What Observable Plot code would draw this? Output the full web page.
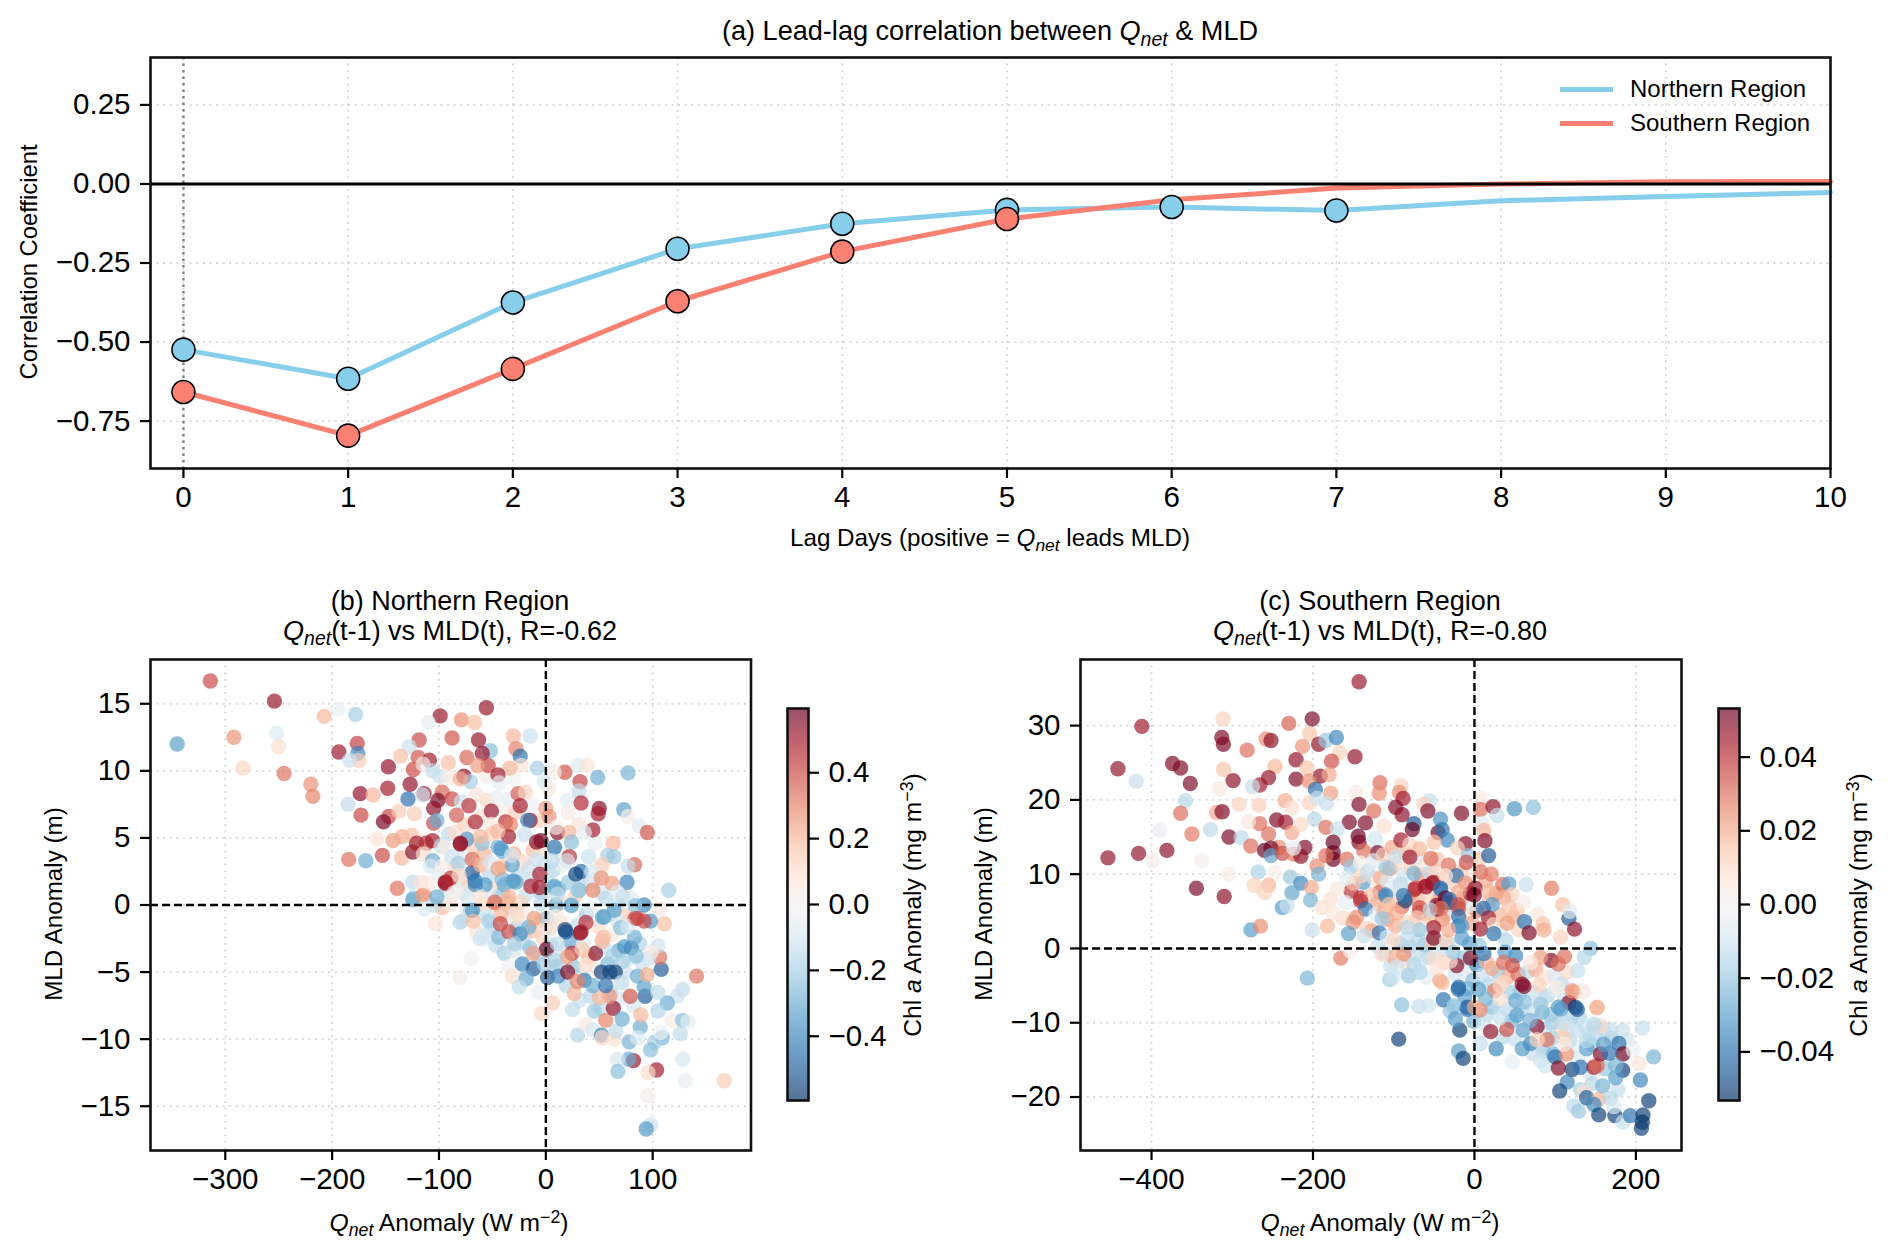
<!DOCTYPE html>
<html>
<head>
<meta charset="utf-8">
<script src="https://cdn.jsdelivr.net/npm/d3@7"></script>
<script src="https://cdn.jsdelivr.net/npm/@observablehq/plot@0.6"></script>
<style>
html,body{margin:0;padding:0;background:#fff;}
#page{position:relative;width:1892px;height:1256px;overflow:hidden;font-family:"Liberation Sans",Arial,sans-serif;color:#000;}
.box{position:absolute;}
.t{position:absolute;white-space:nowrap;line-height:1;transform:translate(-50%,-50%);text-align:center;}
.r{transform:translate(-50%,-50%) rotate(-90deg);}
sub,sup{font-size:72%;line-height:0;}
sub{vertical-align:-0.28em;}
sup{vertical-align:0.42em;}
.leg{position:absolute;height:5px;}
</style>
</head>
<body>
<div id="page"></div>
<script>
// ---- panel (a): lead-lag correlation ----
const lags = [0,1,2,3,4,5,6,7,8,9,10];
const northCorr = [-0.524,-0.616,-0.375,-0.205,-0.126,-0.082,-0.073,-0.084,-0.053,-0.04,-0.027];
const southCorr = [-0.658,-0.796,-0.585,-0.371,-0.214,-0.111,-0.05,-0.013,0.0,0.007,0.008];
const northMarked = [0,1,2,3,4,5,6,7];
const southMarked = [0,1,2,3,4,5];
const corrTicks = [-0.75,-0.5,-0.25,0,0.25];

// ---- panel (b): [Qnet anomaly, MLD anomaly, Chl a anomaly] ----
const northPoints = [
[-314,16.7,.4],[-254,15.2,.52],[-345,12,-.33],[-292,12.5,.27],[-252,12.8,-.08],[-250,11.8,.1],[-283.6,10.2,.12],[-245,9.8,.33],[-220,9,.27],[-218,8.1,.3],
[-207.5,14.06,.2],[-195,14.6,-.04],[-178,14.2,-.2],[-193.7,11.4,.52],[-176.5,12.05,.42],[-176,11.3,-.4],[-175,10.75,.15],[-183.7,10.8,-.12],[-147.4,10.3,.53],[-148,8.7,.5],
[-173.7,8.3,.53],[-161.7,8.2,.2],[-185,7.5,-.15],[-173,6.7,.4],[-147,6.6,.4],[-152,6.2,.57],[-184.5,3.4,.33],[-168.5,3.3,-.3],[-153,3.7,.4],[-158,4.95,.08],
[-143,4.8,.25],[-134.6,5.1,.22],[-125.7,5.2,.18],[-135,3.5,.2],[-124.6,3.95,.55],[-139,1.25,.33],[-124.5,1.7,-.15],[-98.9,14.1,.52],[-110,13.6,-.05],[-118.6,12.3,.4],
[-87.7,12.45,.38],[-128,11.8,-.12],[-136,11.1,.18],[-119.5,11,.38],[-109,10.8,.5],[-91.3,10.6,.18],[-124,10.1,.4],[-115,10.5,.03],[-106,10,-.15],[-99,9.6,-.12],
[-127,9,.53],[-114,8.3,.52],[-129,7.9,-.45],[-115.5,8.2,-.12],[-97,8.4,.35],[-101,7.8,.57],[-105,7.2,.53],[-137.5,7,.15],[-123,6.8,.15],[-105,6.1,.4],
[-102,6.3,-.3],[-87.7,7.9,.4],[-90.8,5.3,-.15],[-115,4.8,.05],[-121,4.6,.5],[-112,4.6,.45],[-106,4.8,.5],[-98,4.4,-.15],[-114.6,3.8,.1],[-106,3.3,-.3],
[-108,2.9,-.1],[-97,2.9,.03],[-93.9,1.7,.55],[-114,.8,.25],[-124,.5,-.25],[-117,1.7,.08],[-81,1.8,-.1],[-81,2.4,-.1],
[-64,2.8,.12],[-72,1.4,.15],[-78,.9,-.06],[-85,2.9,.1],[-92,1.1,-.1],[-97,-.2,.18],[-100,2.2,-.05],[-110,1.6,.06],[-76,3.8,-.08],[-68,4.4,.14],
[-58,3.8,.2],[-53,2.1,-.16],[-47,1.2,.12],[-41,2.9,.16],[-37,1.4,.08],[-30,3.8,.22],[-26,2.2,-.14],[-21,3.2,.12],[-17,1.9,-.08],[-12,4.1,.18],
[-3,4.1,.1],[-60,6.6,.08],[-55,7.8,.12],[-46,8,-.04],[-40,7.1,.03],[-34,7.9,-.06],[-28,6.9,.14],[-90,9.5,.05],[-85,5.4,.1],[-76,6,.14],
[-70,5.5,.05],[-65,8.2,.08],[-55,9.6,.03],[-30,9.4,-.02],[-12,7.4,-.03],[-6,6.3,.12],[14,3.9,-.08],[40,3.6,-.12],[46,4.6,-.04],[-95,4.3,.04],
[-88,3.6,-.12],[-75,-.9,.03],[-65,-2,.08],[-52,.9,-.08],[-43,.6,-.14],[-35,-1.2,-.04],[-18,-.5,.02],[-14,-1.9,.2],[-4,-1.1,.16],[-1,.6,-.04],
[2,-4.8,.05],[16,.1,.1],[34,1.6,-.18],[52,.9,-.1],[72,.6,-.2],[88,-.9,-.06],
[-58,-.6,-.12],[-51,-1.8,-.18],[-47,-3,-.15],[-39,-3.6,-.2],[-33,-.2,-.12],[-30,-3.4,-.1],[-27,-1.7,-.2],[-21,-2.8,-.16],[-19,.7,-.14],[-15,-3.2,-.24],
[-13,1.9,-.1],[-9,-1.9,.12],[-7,-3.7,-.18],[-5,.9,-.2],[-3,-2.4,.14],[-2,3,-.1],[1,-1,-.22],[3,1.6,-.14],[5,-3,-.16],[7,2.6,-.18],
[10,-4.6,-.2],[12,1.2,-.34],[14,-1.3,.08],[15,3,-.05],[17,-3.4,-.1],[19,-6,-.17],[21,1.7,-.22],[23,-2.7,-.32],[26,-4.6,-.24],[28,.7,.15],
[30,-1.5,-.14],[32,-7.1,-.12],[35,-2.9,-.08],[38,-.7,-.2],[40,-3.9,.18],[42,-6.8,-.16],[44,1.8,-.1],[47,-4.8,.06],[49,-1.6,.1],[51,-7.7,-.15],
[54,-3.1,-.14],[56,.5,-.16],[58,-4.4,-.26],[61,-6.6,-.18],[62,-2.2,.06],[66,-.1,-.12],[68,-3.4,-.3],[69,-7,-.1],[74,-5,-.12],[75,-.8,.15],
[78,-4,-.1],[80,.5,-.08],[82,-7.5,-.1],[88,-2.9,-.18],[90,-4.3,-.12],
[-55.7,14.7,.52],[-79,13.8,.28],[-66.6,13.6,.18],[-30.4,12.6,.2],[-14.7,12.6,-.12],[-63,12.3,.52],[-28,11.65,.3],[-52,11.5,-.25],[-59.5,11.3,.53],[-24,11.1,-.45],
[-74,11,.35],[-23,10.4,.08],[-54,10.4,.42],[-64,10.4,.25],[-33.7,10.2,.2],[-8,10.2,-.2],[-44.8,9.7,.5],[-76.6,9.6,.53],[-70.5,9.2,-.2],[-80,9.4,.22],
[-43.7,9.1,-.05],[17.8,9.9,.38],[30,10.4,-.08],[38.5,10.4,.08],[7.8,9.9,.03],[48.5,9.5,-.3],[32,9.2,.42],[77,9.85,-.28],[-1.5,9.2,-.1],[3,8.7,.05],
[31,8.5,-.15],[-26,8.3,.37],[-19,8.4,.12],[20,7.8,-.06],[33,7.6,.47],[-24,7.4,.5],[50,7.2,.55],[49,6.8,.5],[73,7.1,-.33],[21,6.9,.05],
[77,6.6,.03],[-51,7,.52],[-79,7.7,-.12],[-72,7.4,.45],[0,7.2,.25],[3,6.6,.27],[-14.7,6.3,.53],[-17,6.3,-.4],[-37.7,6.2,.45],[-33,6,.3],
[-83.6,6.7,.37],[-66,6.2,.48],[-51,6,.05],[87.5,5.9,-.07],[95,5.4,.38],[44,5.6,.5],[30.5,6,.08],[11,5.4,.55],[9.5,5.8,.03],[21.5,5.4,.2],
[36,5.4,-.05],[63,4.6,.2],[24,4.7,-.25],[-4.6,4.8,.6],[-35,5.1,.5],[-20,5.2,-.1],[-74,4.9,-.35],[-80,4.6,.5],[-59.6,4.6,-.25],[-44.8,4.3,-.3],
[8,4.3,-.45],[-41,4,-.3],[22,3.6,.45],[58,3.7,-.2],[63.7,3.6,-.22],[83,3,.35],[77,2.9,-.15],[52.6,3,.15],[-31.5,3,-.33],[20,3.3,-.1],
[33,2.5,-.45],[28,2.3,-.55],[43,2.5,-.1],[52,2,.28],[76,1.7,-.4],[115,1.1,-.2],[62,1.6,.25],[-40.6,1.9,-.28],[-30.6,1.8,-.38],[-14,1.4,.48],
[-69,2.4,-.5],[-66.3,1.8,-.45],[-57,1.5,-.35],[-94,1.7,.5],[8,1.4,-.3],[31,1.1,-.3],[44,1.1,.3],[67,.95,-.08],[-40,.8,-.2],
[-124.6,.38,-.3],[-115.6,.7,.25],[-105,0,-.15],[-114,-.3,-.08],[-103.4,-1.4,.08],[-80.4,-1.3,-.15],[-94,1.6,.5],[-66,1.5,-.4],[-70.5,-.4,-.4],[-61.6,-2.5,-.12],
[-56,-2.5,-.1],[-44,-2.4,-.27],[-34.6,-2,.4],[-24,-2.15,-.4],[-16,-1.65,-.3],[-29.6,-2.9,-.2],[-70,-4,-.01],[-80.4,-5.4,.03],[-34.6,-4.6,-.02],[-22,-4.4,-.4],
[-11.6,-4.75,-.5],[-31.4,-5.3,.1],[-18.4,-5.5,-.3],[-25,-6.1,-.15],[-7,-6.5,-.05],[.6,-3.3,.6],[-12,-3.6,.25],[1.6,-5.4,-.5],[11.5,-5.3,-.4],[-4,-8.1,.12],
[6.3,-7.3,.15],[25,-7.8,-.15],[26.6,-6.6,.2],[29.7,-9.7,-.18],[37.5,-8.9,.05],[44,-9.3,-.1],[52,-9.7,-.4],[52.6,-9.9,.12],[64,-10,.1],[65.6,-9.4,-.15],
[56,-8.6,.3],[45.4,-7.9,-.22],[63.2,-7.7,.53],[71.4,-8.5,-.3],[78,-10.2,-.28],[88.4,-9.1,-.3],[89,-8.2,.2],[79,-6.8,.38],[59.6,-6.8,.27],[50,-6.9,.2],
[93,-6.8,-.5],[92,-6.1,-.33],[85.6,-5.3,-.3],[94.7,-5.2,.22],[108,-4.8,-.5],[106.5,-3.9,.33],[105,-3.05,-.12],[98.7,-3.5,.05],[95.6,-4,-.1],[111,-1.4,.18],
[98,-1.2,-.35],[92,-1.2,.4],[83.6,-1,.42],[106.5,-.3,.05],[92,0,-.4],[83.6,-.05,-.25],[141,-5.3,.33],[128,-6.3,-.15],[123,-6.8,-.12],[113.6,-7.3,-.3],
[104.7,-6.5,-.15],[105,-7.9,-.18],[118,-8.6,.03],[128,-8.6,-.25],[133,-8.7,-.06],[125.8,-9.6,-.15],[109,-9.9,-.27],[102,-10.2,-.2],[98,-10.8,-.25],[86,-9.9,-.08],
[107.5,-9.5,-.04],[128.3,-11.5,-.1],[130.5,-13.1,-.05],[167,-13.1,.15],[103.6,-12.3,.5],[95.6,-12.5,.1],[82,-11.6,.52],[77.6,-11.5,-.3],[67,-11.5,-.1],[67.4,-12.4,-.25],
[95.5,-14.2,.03],[98,-16.4,-.12],[93.9,-16.7,-.35],
[53,-.9,-.33],[67,-1.2,-.1],[37.5,-1.3,.45],[32,-2.1,.53],[18.7,-2,-.5],[3,-2.05,-.05],[11,-2.9,-.15],[24.4,-3.6,.45],[20.3,-3.9,.25],[46.4,-3.6,.55],
[34,-3.3,.15],[52.6,-2.7,.2],[73.6,-3.1,-.35],[80,-3.2,-.4],[62.6,-3.8,-.2],[72,-4.2,-.2],[84.7,-3.8,-.25],[60,-5,-.55],[52,-5,-.55],[65,-5,-.55],
[20.4,-5,.55],[36,-5.6,-.45],[44,-6,-.3],[56,-6,-.45],[71,-5.8,-.15],[29.6,-5.7,.3],[37,-4.5,.1],[8,-4.1,-.2],[-1.6,-4.4,-.2],[83,-2.4,-.3],
[70,-1.7,-.25],[59.3,-.7,-.15],[42,-.2,-.05],[24,0,-.25],[9.4,0,-.3],[-4.7,.1,-.15],[-23.5,.2,.12],[-36,.3,.22],[-48.5,.05,.15],[-61,.05,.1],
[-73.6,-.3,-.05],[-89,.05,.05],[-42,-.7,.2],[-54.8,-.9,-.1],[-26.6,-.9,.1],[-11,-1,.25],[-6,1.3,.5],[-39,1.5,-.3],[-28,1.7,-.33],
[-80,4.55,.53],[-42,4.2,-.35],[-51,5.3,.15],[-45,5.5,.2],[-61,5.1,.2],[-19.5,5.3,-.1],[-8.7,4.7,.55],[-82,3.1,-.2],[-89,2,.45],[-81,2.2,.1],
[-69,3.4,.35],[-61,3,.2],[-52.5,3.2,-.1],[-44.7,2.7,.25],[-15.6,2.7,-.12],[-32,3.7,-.1],[-9,3.4,-.12],[6,3.3,-.15],[-5.7,2.3,.5],[7.7,1.3,-.3],
[11,.8,-.15],[30,1.1,-.2],[23.7,-.05,-.3],[-34.6,.6,.2],[-34,-.1,.18],[-48,.2,.35],[-61,.6,.08],[-73.7,.6,-.1],[-89,.1,.05],[-102,.6,-.3],
[-86,.9,.03],[-68.5,-.4,-.35],[-78.6,-1.2,-.15],[-68,-1.2,.18],[-59.6,-2.3,-.1],[-28,-.6,.1],[-53.5,-1.2,-.2],[-42.6,-1.4,.4],[9.7,-.85,.05],[3.5,-1.7,.1],
[18,-1.85,-.55],[33,-2,.5],[54.4,-.9,-.33],[76.5,-1.6,-.1],[85.6,-1,.4],[64,-.4,-.33],[54,-2.4,.18]
];
const northQTicks = [-300,-200,-100,0,100];
const northMldTicks = [-15,-10,-5,0,5,10,15];
const northChlTicks = [-0.4,-0.2,0,0.2,0.4];

// ---- panel (c): [Qnet anomaly, MLD anomaly, Chl a anomaly] ----
const southPoints = [
[-142.9,35.9,.046],[-412,29.9,.045],[-311.4,30.9,.012],[-201,30.9,.05],[-230,30.3,.032],[-313,28.4,.05],[-311,27.5,.05],[-258,28.2,.025],[-252,28,.048],[-281.6,26.7,.03],
[-204,28.9,.015],[-193,27.5,.047],[-184,28,-.02],[-171,28.4,-.035],[-167,26.4,.012],[-213,27.2,.024],[-148,25.8,.047],[-221,25.4,.047],[-177,25.2,.035],[-441.7,24.2,.047],
[-374,24.9,.05],[-364,24.3,.05],[-419,22.5,-.012],[-352,22.2,.05],[-311,24.1,.015],[-299,22.6,.048],[-247,24.5,.018],[-255,23,.047],[-221,22.8,.05],[-207.5,24.3,.015],
[-191,23.2,.047],[-180,23.4,.02],[-205,22.5,.025],[-266,22,.045],[-275,21.8,-.012],[-315.5,21.5,.005],[-197,21.4,-.04],[-178,20.9,.022],[-117,22.3,.03],[-118,20.9,.025],
[-147,21,.004],[-358,19.9,-.015],[-364,18.2,.03],[-319.6,18.3,.02],[-312.5,18.4,.05],[-291.7,19.4,.012],[-267,19.3,.013],[-234.7,19.9,.02],[-226,18.9,.008],[-204.5,19.6,.012],
[-195,20.2,-.01],[-183,19.5,-.012],[-143,19.4,.05],[-124.7,18.5,.03],[-245,17.3,.05],[-234,17,.045],[-266,16.8,.03],[-280,17.1,.005],[-198,17.4,-.015],[-155,17,.05],
[-184,16.3,.03],[-170,16.1,-.012],[-135,16.9,.05],[-226,15.6,.02],[-215,16.7,.01],[-390,15.9,-.004],[-350,15.4,.028],[-326.9,16,-.014],[-304,15,.05],[-289,14.9,-.014],
[-255,15.4,.03],[-144,15.1,.053],[-143,14.3,.05],[-175,14.3,.053],[-123,14.8,-.01],[-454,12.2,.047],[-416,12.8,.047],[-381,13.2,.048],[-399,11.8,.003],[-338,11.8,.002],
[-277,13.8,.03],[-242,13.6,.025],[-260,13.2,.053],[-252,13.5,.052],[-252,12.5,-.028],[-238,12.8,.035],[-224,12.7,.028],[-210,13.6,.05],[-215,12.4,.048],[-224,13.5,-.005],
[-175,12.9,.053],[-175,12,.053],[-184,12.5,.03],[-158,12,.03],[-120,12.9,.052],[-137,13.1,.03],[-153,11,-.02],[-110,11,-.02],[-141,11.5,.003],[-195,11.1,.025],
[-193,10,-.025],[-228,9.6,-.02],[-268,10.3,-.017],[-304,10,.004],[-247,10.2,.003],[-344.5,8.1,.05],[-310,7,.048],[-273,8.5,.012],[-255,8.5,.018],[-260,7.5,.012],
[-215,8.8,-.035],[-226,7.5,-.028],[-202,8.2,.02],[-203,6.5,-.025],[-153,7.7,.04],[-137.5,8.9,-.03],[-124,9.5,.008],[-117,7.6,.033],[-110,7,-.03],[-141,6.8,.04],[-170,8,.005],
[-140,9.8,.01],[-132,10.4,-.012],[-128,7.2,.015],[-125,11.8,-.006],[-120,6.1,.02],[-116,9.5,.02],[-113,12.6,.012],[-108,9,-.008],[-104,10.8,.025],[-102,13.6,.02],
[-99,6.3,.016],[-95,11.5,.008],[-90,5.6,.03],[-88,9.9,-.01],[-85,12.8,.018],[-82,6.9,.022],[-78,10.8,.012],[-72,12.2,-.008],[-70,6.5,.02],[-66,9.9,.025],
[-62,11.2,.006],[-58,4.9,.02],[-55,10.2,-.012],[-48,10.5,.012],[-44,6.7,.025],[-38,9.4,.02],[-34,4.6,.012],[-28,8.9,.012],[-26,5,-.01],[-17,10.2,.018],
[-14,6.8,.022],[-9,4.5,.01],[-6,9.9,.006],[-3,3.4,.02],[3,5.1,.028],[6,12,.014],[14,9.1,.02],[18,6.3,.015],[27,7.4,.025],[30,4.5,.018],
[33,2.3,-.006],[39,1.1,-.015],[48,4.2,.02],[55,2.5,.012],[-150,8.8,.015],[-158,9.5,-.006],[-163,4.1,.01],
[-120,.3,-.012],[-112,-.6,-.016],[-104,-2.3,-.012],[-92,.6,-.02],[-86,-1.9,.01],[-80,.2,-.02],[-74,-.7,-.012],[-62,.5,-.022],[-57,-1.2,-.018],[-53,.8,.015],
[-44,-.3,-.012],[-37,-1.9,.012],[-33,.7,-.015],[-24,-3.4,-.01],[-14,-1.3,-.02],[-11,-3.2,-.008],[-6,.6,-.03],[-2,-4.3,-.022],[-8,-5.4,-.025],[3,-2.2,-.035],
[6,.4,-.02],[10,-3.6,-.012],[15,-1.8,.018],[18,-4.9,-.015],[29,-3.2,-.02],[41,-3.9,.02],[44,-5.9,-.018],[54,-3.5,.03],[57,-6,-.02],[66,-3.1,-.014],
[73,-5.9,-.012],[76,-2.9,.02],[88,-3.9,.008],[90,-6.4,-.016],[94,-8.9,-.02],[99,-3.6,-.008],[108,-4.8,-.014],[112,-6.9,-.012],[115,-3.2,.01],[-30,-8.4,-.02],
[-12,-6.5,-.03],[15,-8.9,-.015],[22,-7.9,-.02],[40,-8.2,-.014],[46,-9.8,-.025],[58,-8.3,-.016],[72,-8.3,-.012],[88,-10.8,-.012],[101,-9,-.015],[118,-9.8,-.012],
[122,-9,-.014],[130,-9.3,-.016],[136,-10.4,-.01],[142,-11.5,-.012],[146,-13,-.02],[150,-11.4,-.014],[115,-11.1,-.006],[124,-13.2,-.006],[118,-12.4,-.012],[128,-14.8,-.008],
[107,-10.8,.012],[97,-12.1,-.018],[85,-13.8,-.02],[72,-14.1,-.012],[-1,-9.8,-.025],[12,-10,-.01],[35,-11.9,-.015],[50,-12.2,-.012],[160,-10.9,-.015],[170,-12.1,-.02],
[190,-12.4,-.01],[143,-16.8,-.01],[162,-16.2,-.02],[178,-19,-.012],[146,-18.2,-.015],
[-238,5.5,-.03],[-232,5.75,-.012],[-189,5.5,.008],[-178.6,6.6,.008],[-175,4.85,.006],[-160,6.2,-.005],[-141,6.4,.04],[-135,5.3,-.04],[-146,4.2,.025],[-150,3.5,.025],
[-182,3,.017],[-201,2.5,-.012],[-276.8,2.5,-.03],[-265,3,.025],[-156,2,-.03],[-133,2.7,.012],[-127,2.4,.02],[-117.7,2.1,-.04],[-137,1.7,-.012],[-108,3.9,.02],
[-98,3.05,.02],[-83.6,3.5,.012],[-68.5,4.8,.035],[-56,4.2,.015],[-76,3.1,.007],[-84,1.3,-.012],[-69,1.1,-.015],[-50.4,1.4,.052],[-40,3.9,.025],[-19.6,3,-.04],
[-15.5,1.4,-.03],[-34.5,1,.012],[-19.6,5.4,.035],[-46,5.3,.05],[-36,6.2,.053],[-30,6.2,-.04],[-86,6.4,-.05],[-75,7.9,.04],[-61,8.3,.045],[-50.5,8.9,.042],
[-42,8,-.035],[-59,6.9,.01],[-92,8.7,-.012],[-96,7.3,.008],[-122,4.6,-.006],[-112,5,.02],[-165.6,-1.3,.028],[-154,-.3,.003],[-207,-4,-.025],[-105,-4.2,-.018],
[-101,-3.9,-.01],[-82,-3.65,-.016],[-67.7,-3.2,-.014],[-59,-3.9,-.006],[-43,-4.3,.02],[-19.6,-5.2,-.04],[-38.5,-6.9,-.04],[-25,-7.7,-.02],[-90,-7.6,-.022],[-69,-7.8,-.012],
[-57,-7.7,-.01],[-9,-7.9,-.045],[-5,-1.3,.05],[-22,-2.3,.048],[-30,-1.7,.007],[-50.4,-1.3,.008],[-67,-1.7,-.01],[-87.6,-.8,.025],[-100,-1.2,.02],[-114.6,-.8,.01],
[-75,-2.1,-.015],[-96,-2.5,-.01],[-46,-2.6,.007],[-108,1.5,-.008],[-100,1.1,.01],[-2.5,5.8,-.005],[-5,7.4,.05],
[-90.8,21.9,.012],[-93,21,.025],[-88.5,20.2,.045],[-55.7,19.9,-.012],[-62.8,19.4,.012],[-97.5,19,.05],[-57.7,18.5,.05],[-89.6,18,.048],[-16,18.2,.05],[7.4,20.2,.005],
[7.4,18.7,.03],[23,19.1,.048],[28,17.9,-.012],[49.5,18.8,-.032],[73,19,-.022],[-42,17.4,-.033],[-75,16.8,-.045],[-77,16,.053],[-112,16.5,.008],[-45,15.6,.052],
[-40,16,-.04],[9.4,16.8,-.006],[11.6,15.9,.018],[-33.6,14.6,-.035],[-50,14.3,.015],[-11,14.1,.05],[13,14.5,.05],[-21,13.5,.012],[-91,14.6,.045],[-80,14,.01],
[-68,13.4,.018],[17.6,12.5,-.045],[-97,12.4,-.012],[-80,12.3,.045],[-7.6,12.5,-.02],[-10,11.6,.035],[-46,12,.015],[-54,12.1,.03],[-107,10.8,-.018],[-75,10.1,-.025],
[-32,11.2,.03],[-22.5,9.8,-.04],[-36,9.8,.006],[8,10.3,.03],[21,10,.028],[-11,8.8,.025],[35.1,8.6,.03],[64,8.6,-.012],[42.5,8.7,-.03],[95.5,8.1,.028],
[-52,8.8,.045],[-73,8.1,.04],[-60,8.3,.045],[-42,8.1,-.04],[-91,8.7,-.012],[-110,7.2,-.035],[-92,8,-.01],[-87.9,7.1,-.04],[-19.6,7.6,.02],[1,8.1,.047],
[0,7.2,.05],[17.6,7.7,.018],[46.5,7.2,.012],[36,6.9,.02],[-36,6.8,.055],[-31,6.6,-.04],[-47,5.8,.05],[-20,5.9,.035],[-68,5.5,.035],[-55,5.2,-.012],
[22,5.9,-.03],[11,5.4,-.04],[53,5.1,.015],[43,5.6,.015],[61,6.2,.003],[78.5,4.6,.005],[109.5,5.9,.016],[117,4.05,-.045],[118,5,-.006],[-41,5.4,.028],
[-19.5,4.3,-.04],[-106,5.9,.015],[-96,4.8,.02],[-114,4,-.02],[-71,4.1,.012],[17.5,4.1,.045],[23.9,3.2,.01],[62,3.6,-.04],[40.5,3.4,.022],[84.8,3.3,.015],
[86,2.5,.02],[124,2.6,.048],[67.7,2.1,.05],[106.6,1.5,.012],[-50.5,2.8,.045],[-15.6,3,-.03],[-68,2.5,-.02],[-83,2.8,-.015],[7.4,2.6,.045],[24,2,-.04],
[-32,2.5,.02],[144,0,-.022],[136,-1.2,-.015],[111.5,-1.1,.03],[95,-1.6,.05],[81.8,-1.2,.022],[128,-3,-.012],[103.8,-2.1,.03],[69.7,-1.9,.006],[51,-1,-.035],
[38,-.5,-.03],[11.6,-.7,-.04],[-26,-.5,-.02],[22,-2.7,.02],[47,-2.3,.035],[36,-1.9,.03],[34.4,-4.6,.01],[59,-4.8,.05],[61.4,-5.1,.05],[80,-4.9,.012],
[100,-5.6,-.006],[123,-5.9,.023],[135,-5.9,.004],[25,-5.7,.028],[5,-5.5,-.03],[-20,-5.5,-.042],[-40,-4.6,.018],[-81,-3.7,-.016],[-67,-3.2,-.014],[51,-7,-.028],
[62,-7.2,-.022],[80,-7.3,-.01],[117,-7.3,.05],[125,-7.9,-.05],[152,-7.9,.018],[104,-7.9,-.03],[13.5,-6.8,-.025],[32,-6.8,.008],
[-93.8,-12.2,-.05],[-25.6,-7.9,-.02],[-18.2,-11,-.05],[-23.7,-9.5,-.03],[-19.6,-13.8,-.03],[-14,-14.8,-.05],[-9,-8.2,-.04],[7.4,-12.8,-.012],[26.9,-13.5,-.035],[20,-11.2,.048],
[40,-10.9,.035],[46.9,-15.3,-.005],[59.3,-13.5,-.03],[60.5,-11,-.03],[69.4,-12.8,-.035],[77.6,-10.5,.05],[81.8,-15.1,-.01],[88,-15.8,-.01],[90,-12.3,.03],[77.6,-12.3,.012],
[98,-14.2,-.025],[99.9,-14.6,-.04],[104,-16.1,.05],[121,-16.3,-.05],[114,-14.2,.025],[111,-12,.013],[111,-12.9,.005],[114.9,-18,-.035],[105.6,-19.2,-.05],[131.5,-16,-.04],
[148,-16,.045],[152,-15.8,.03],[156,-14.2,.05],[139,-13.5,-.03],[131.5,-19,-.018],[135.5,-19.3,.008],[139,-20.1,-.045],[154,-20.3,.018],[148,-21,-.035],[158.9,-18.5,-.025],
[168.5,-20.2,-.015],[123,-21.2,-.014],[129,-21.9,-.02],[154,-22.4,-.05],[174,-22.5,-.05],[172.8,-21.3,-.008],[184,-23.4,-.012],[193,-22.5,-.04],[208.8,-22.4,-.05],[208,-23.4,-.055],
[206.8,-24.2,-.05],[216,-20.5,-.05],[205.6,-17.7,-.035],[222,-14.6,-.025],[208,-10.7,-.012],[183.6,-11,-.012],[168.5,-10.9,-.012],[156,-10.4,.01],[152,-8,.018],[179,-12.8,-.04],
[184,-14.2,.053],[196.8,-13.7,-.002],[204,-15.5,.006],[183.6,-16.4,-.05],[175,-17.4,-.03],[175,-15.8,-.025],[167,-14.1,-.04],[160,-12.9,-.03],[139,-12.4,-.015],[127,-11.1,-.012],
[148,-10.2,-.015],[127.5,-8.2,-.045],[107,-8.2,-.03],[84,-8.6,-.025],[82,-7.5,-.02],[32,-9.3,-.012],[52.6,-9,-.03],[69,-9.7,-.025],[96,-10,-.018],[110,-10.1,-.012],
[7,-8.3,.025],[0,-7.9,.02],[133,-5.7,.004],[121,-5.7,.023],[32,-5,.01],[102,-5.2,.004]
];
const southQTicks = [-400,-200,0,200];
const southMldTicks = [-20,-10,0,10,20,30];
const southChlTicks = [-0.04,-0.02,0,0.02,0.04];

const BLUE = "#87CEEB", RED = "#FA8072";
const FONT = '"Liberation Sans",Arial,sans-serif';
const TICK_FONT = "29.5px";
const gridStyle = {stroke:"#b4b4b4",strokeOpacity:.55,strokeWidth:1.8,strokeDasharray:"2,4.6"};
const FRAME = {stroke:"#111",strokeWidth:2.6};
const page = document.getElementById("page");

function place(node,left,top){
  const d=document.createElement("div");d.className="box";d.style.left=left+"px";d.style.top=top+"px";
  d.appendChild(node);page.appendChild(d);
}
function text(html,x,y,size,rot){
  const d=document.createElement("div");d.className="t"+(rot?" r":"");d.innerHTML=html;
  d.style.left=x+"px";d.style.top=y+"px";d.style.fontSize=size+"px";page.appendChild(d);
}

// panel (a)
const corrRows = s => lags.map((l,i)=>({lag:l,r:s[i]}));
const northRows = corrRows(northCorr), southRows = corrRows(southCorr);
place(Plot.plot({
  width:1820,height:471,marginLeft:90,marginRight:50,marginTop:10,marginBottom:50,
  style:{fontFamily:FONT,fontSize:TICK_FONT,background:"transparent",overflow:"visible"},
  x:{domain:[-0.2,10]},y:{domain:[-0.9,0.4]},
  marks:[
    Plot.gridX(lags,{...gridStyle}),
    Plot.gridY(corrTicks,{...gridStyle}),
    Plot.ruleX([0],{stroke:"#808080",strokeWidth:2.4,strokeDasharray:"2.5,4"}),
    Plot.line(northRows,{x:"lag",y:"r",stroke:BLUE,strokeWidth:5}),
    Plot.line(southRows,{x:"lag",y:"r",stroke:RED,strokeWidth:5}),
    Plot.ruleY([0],{stroke:"#000",strokeWidth:3}),
    Plot.dot(northRows.filter(d=>northMarked.includes(d.lag)),{x:"lag",y:"r",r:11.5,fill:BLUE,stroke:"#000",strokeWidth:1.6}),
    Plot.dot(southRows.filter(d=>southMarked.includes(d.lag)),{x:"lag",y:"r",r:11.5,fill:RED,stroke:"#000",strokeWidth:1.6}),
    Plot.frame(FRAME),
    Plot.axisX({ticks:lags,label:null,tickSize:10,tickPadding:8,strokeWidth:2.2,tickFormat:"d"}),
    Plot.axisY({ticks:corrTicks,label:null,tickSize:10,tickPadding:10,strokeWidth:2.2,tickFormat:".2f"})
  ]
}),60,47);

// scatter panels + colour bars
function scatter(points,o){
  const rows=points.map(p=>({q:p[0],mld:p[1],chl:p[2]}));
  const ml=o.left-o.svgLeft,mt=o.top-o.svgTop;
  place(Plot.plot({
    width:ml+o.w+20,height:mt+o.h+50,marginLeft:ml,marginRight:20,marginTop:mt,marginBottom:50,
    style:{fontFamily:FONT,fontSize:TICK_FONT,background:"transparent",overflow:"visible"},
    x:{domain:o.xd},y:{domain:o.yd},
    color:{type:"linear",scheme:"RdBu",reverse:true,domain:[-o.m,o.m]},
    marks:[
      Plot.gridX(o.xt,{...gridStyle}),
      Plot.gridY(o.yt,{...gridStyle}),
      Plot.dot(rows,{x:"q",y:"mld",r:7.7,fill:"chl",fillOpacity:.68}),
      Plot.ruleX([0],{stroke:"#000",strokeWidth:2.4,strokeDasharray:"8,4"}),
      Plot.ruleY([0],{stroke:"#000",strokeWidth:2.4,strokeDasharray:"8,4"}),
      Plot.frame(FRAME),
      Plot.axisX({ticks:o.xt,label:null,tickSize:10,tickPadding:8,strokeWidth:2.2,tickFormat:"d"}),
      Plot.axisY({ticks:o.yt,label:null,tickSize:10,tickPadding:10,strokeWidth:2.2,tickFormat:"d"})
    ]
  }),o.svgLeft,o.svgTop);
  const n=196,step=2*o.m/n;
  const stops=d3.range(n).map(i=>-o.m+i*step);
  place(Plot.plot({
    width:21+10+120,height:392+20,marginLeft:0,marginRight:130,marginTop:10,marginBottom:10,
    style:{fontFamily:FONT,fontSize:TICK_FONT,background:"transparent",overflow:"visible"},
    x:{domain:[0,1],axis:null},y:{domain:[-o.m,o.m]},
    color:{type:"linear",scheme:"RdBu",reverse:true,domain:[-o.m,o.m]},
    marks:[
      Plot.rect(stops,{x1:0,x2:1,y1:d=>d,y2:d=>d+step,fill:d=>d+step/2,fillOpacity:.68,shapeRendering:"crispEdges"}),
      Plot.frame(FRAME),
      Plot.axisY({anchor:"right",ticks:o.ct,label:null,tickSize:10,tickPadding:10,strokeWidth:2.2,tickFormat:o.cf})
    ]
  }),o.cbLeft,698);
}
scatter(northPoints,{svgLeft:40,svgTop:649,left:150,top:659,w:600.5,h:491,
  xd:[-370,192],yd:[-18.3,18.3],xt:northQTicks,yt:northMldTicks,m:0.595,ct:northChlTicks,cf:".1f",cbLeft:787});
scatter(southPoints,{svgLeft:970,svgTop:649,left:1080,top:659,w:601,h:491,
  xd:[-488,256.5],yd:[-27.2,38.9],xt:southQTicks,yt:southMldTicks,m:0.0532,ct:southChlTicks,cf:".2f",cbLeft:1718});

// titles and axis labels (mathtext-like spans stay real text)
const Q='<i>Q</i><sub><i>net</i></sub>';
text('(a) Lead-lag correlation between '+Q+' &amp; MLD',990,31,27.1);
text('Lag Days (positive = '+Q+' leads MLD)',990,538,24.2);
text('Correlation Coefficient',29,262,23.8,true);
text('(b) Northern Region',450,601,27);
text(Q+'(t-1) vs MLD(t), R=-0.62',450,631,27);
text('(c) Southern Region',1380,601,27);
text(Q+'(t-1) vs MLD(t), R=-0.80',1380,631,27);
text(Q+' Anomaly (W m<sup>−2</sup>)',449,1223,24.6);
text(Q+' Anomaly (W m<sup>−2</sup>)',1380,1223,24.6);
text('MLD Anomaly (m)',54,904,24.2,true);
text('MLD Anomaly (m)',984,904,24.2,true);
text('Chl <i>a</i> Anomaly (mg m<sup>−3</sup>)',913,905,24.6,true);
text('Chl <i>a</i> Anomaly (mg m<sup>−3</sup>)',1859,905,24.6,true);

// legend
[["Northern Region",BLUE,89],["Southern Region",RED,123]].forEach(([name,c,y])=>{
  const b=document.createElement("div");b.className="leg";
  b.style.cssText="left:1560px;width:53px;top:"+(y-2.5)+"px;background:"+c+";";page.appendChild(b);
  const t=document.createElement("div");t.className="t";t.textContent=name;
  t.style.cssText="left:1630px;top:"+y+"px;font-size:24px;transform:translate(0,-50%);";page.appendChild(t);
});
</script>
</body>
</html>
